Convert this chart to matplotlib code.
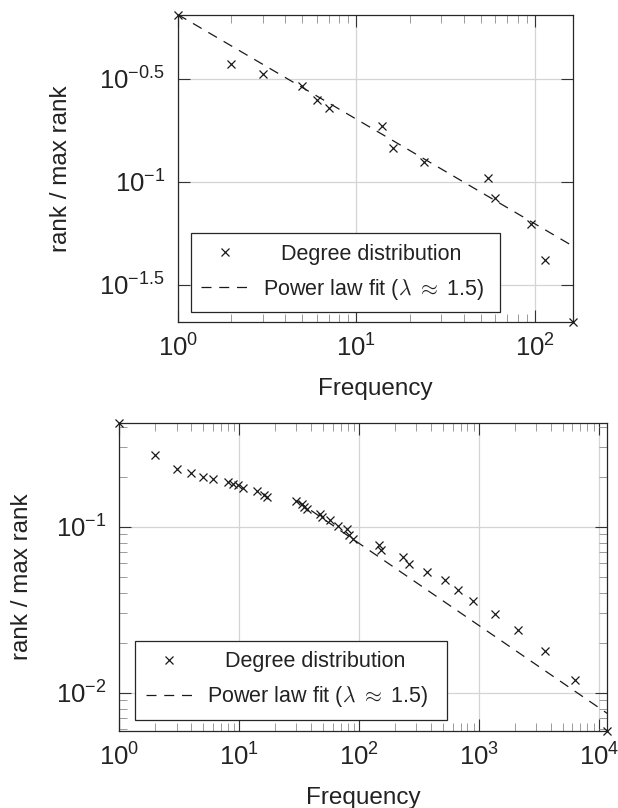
import numpy as np
import matplotlib
matplotlib.use('Agg')
import matplotlib.pyplot as plt
from matplotlib.ticker import FixedLocator, FixedFormatter, LogLocator, NullFormatter, NullLocator

plt.rcParams['font.family'] = ['Liberation Sans', 'DejaVu Sans']
plt.rcParams['mathtext.fontset'] = 'custom'
plt.rcParams['mathtext.rm'] = 'Liberation Sans'
plt.rcParams['mathtext.it'] = 'Liberation Sans:italic'
plt.rcParams['mathtext.bf'] = 'Liberation Sans:bold'

# top chart (max rank 48)
freq_top = [1, 2, 3, 5, 6, 7, 14, 16, 24, 55, 60, 95, 114, 164]
rank_top = [31, 18, 16, 14, 12, 11, 9, 7, 6, 5, 4, 3, 2, 1]
max_rank_top = 48
fit_top = (0.65, 0.508)          # y = c * x^-k
yticks_top = [10 ** -0.5, 10 ** -1, 10 ** -1.5]
ylabels_top = ['$10^{-0.5}$', '$10^{-1}$', '$10^{-1.5}$']

# bottom chart
freq_bot = [1, 2, 3, 4, 5, 6, 8, 8.8, 9.7, 10.7, 14, 16, 17, 30, 33.5, 35, 37,
            47, 49, 57, 66, 79, 83, 89, 145, 152, 231, 259, 371, 521, 668,
            897, 1360, 2127, 3548, 6310, 11700]
y_bot = [0.419, 0.270, 0.222, 0.209, 0.198, 0.193, 0.186, 0.181, 0.177, 0.171,
         0.164, 0.156, 0.150, 0.143, 0.137, 0.132, 0.128, 0.119, 0.114, 0.109,
         0.101, 0.0964, 0.0891, 0.0843, 0.078, 0.0723, 0.0659, 0.0595, 0.0536,
         0.0477, 0.0415, 0.0356, 0.0298, 0.0239, 0.0179, 0.0119, 0.0059]
fit_bot = (0.774, 0.495)
fit_bot_start = 30

leg_labels = ['   Degree distribution', 'Power law fit ($\\lambda$ $\\approx$ 1.5)']


def style(ax):
    ax.set_xscale('log')
    ax.set_yscale('log')
    ax.grid(True, which='major', color='#d4d4d4', lw=0.9)
    ax.set_axisbelow(True)
    for s in ax.spines.values():
        s.set_color('#262626')
        s.set_linewidth(0.9)
    ax.set_xlabel('Frequency', fontsize=17.5, color='#222222')
    ax.set_ylabel('rank / max rank', fontsize=17.5, color='#222222')


def ticks(ax):
    ax.tick_params(which='both', direction='in', top=True, right=True,
                   labelsize=18.5, pad=9, labelcolor='#222222')
    ax.tick_params(which='major', length=8.5, width=0.8, color='#333333')
    ax.tick_params(which='minor', length=5.8, width=0.7, color='#9a9a9a')


def draw(ax, x, y, fit, xfit0, legbox):
    ax.plot(x, y, ls='none', marker='x', ms=5.5, mew=0.9, color='#1a1a1a',
            label=leg_labels[0], clip_on=False, zorder=4)
    xf = np.array([xfit0, x[-1]], dtype=float)
    ax.plot(xf, fit[0] * xf ** -fit[1], color='#1a1a1a', lw=0.9,
            dashes=(8, 6.2), label=leg_labels[1])
    ax.set_xlim(x[0], x[-1])
    ax.set_ylim(min(y), max(y))
    leg = ax.legend(loc='lower left', bbox_to_anchor=legbox, mode='expand',
                    borderaxespad=0, fancybox=False, framealpha=1,
                    edgecolor='#262626', handlelength=2.15,
                    handletextpad=0.7, borderpad=0.5, labelspacing=0.55,
                    prop={'size': 15.5, 'math_fontfamily': 'cm'})
    leg.get_frame().set_linewidth(0.9)
    leg.set_zorder(5)
    for t in leg.get_texts():
        t.set_color('#222222')


fig = plt.figure(figsize=(6.18, 8.08), dpi=100)

ax1 = fig.add_axes([0.2875, 0.6011, 0.640, 0.3803])
style(ax1)
y_top = [r / max_rank_top for r in rank_top]
draw(ax1, freq_top, y_top, fit_top, freq_top[0], (0.033, 0.0325, 0.782, 0.3))
ax1.yaxis.set_major_locator(FixedLocator(yticks_top))
ax1.yaxis.set_major_formatter(FixedFormatter(ylabels_top))
ax1.yaxis.set_minor_locator(NullLocator())
ax1.xaxis.set_major_locator(LogLocator(base=10))
ax1.xaxis.set_minor_locator(LogLocator(base=10, subs=np.arange(2, 10)))
ax1.xaxis.set_minor_formatter(NullFormatter())
ticks(ax1)
ax1.yaxis.set_label_coords(-0.267, 0.5)
ax1.xaxis.set_label_coords(0.5, -0.18)

ax2 = fig.add_axes([0.193, 0.0957, 0.7896, 0.3804])
style(ax2)
draw(ax2, freq_bot, y_bot, fit_bot, fit_bot_start, (0.032, 0.035, 0.639, 0.3))
ax2.xaxis.set_major_locator(LogLocator(base=10))
ax2.xaxis.set_minor_locator(LogLocator(base=10, subs=np.arange(2, 10)))
ax2.xaxis.set_minor_formatter(NullFormatter())
ax2.yaxis.set_major_locator(LogLocator(base=10))
ax2.yaxis.set_minor_locator(LogLocator(base=10, subs=np.arange(2, 10)))
ax2.yaxis.set_minor_formatter(NullFormatter())
ticks(ax2)
ax2.yaxis.set_label_coords(-0.177, 0.5)
ax2.xaxis.set_label_coords(0.5, -0.182)

fig.savefig('out.png', dpi=100)
